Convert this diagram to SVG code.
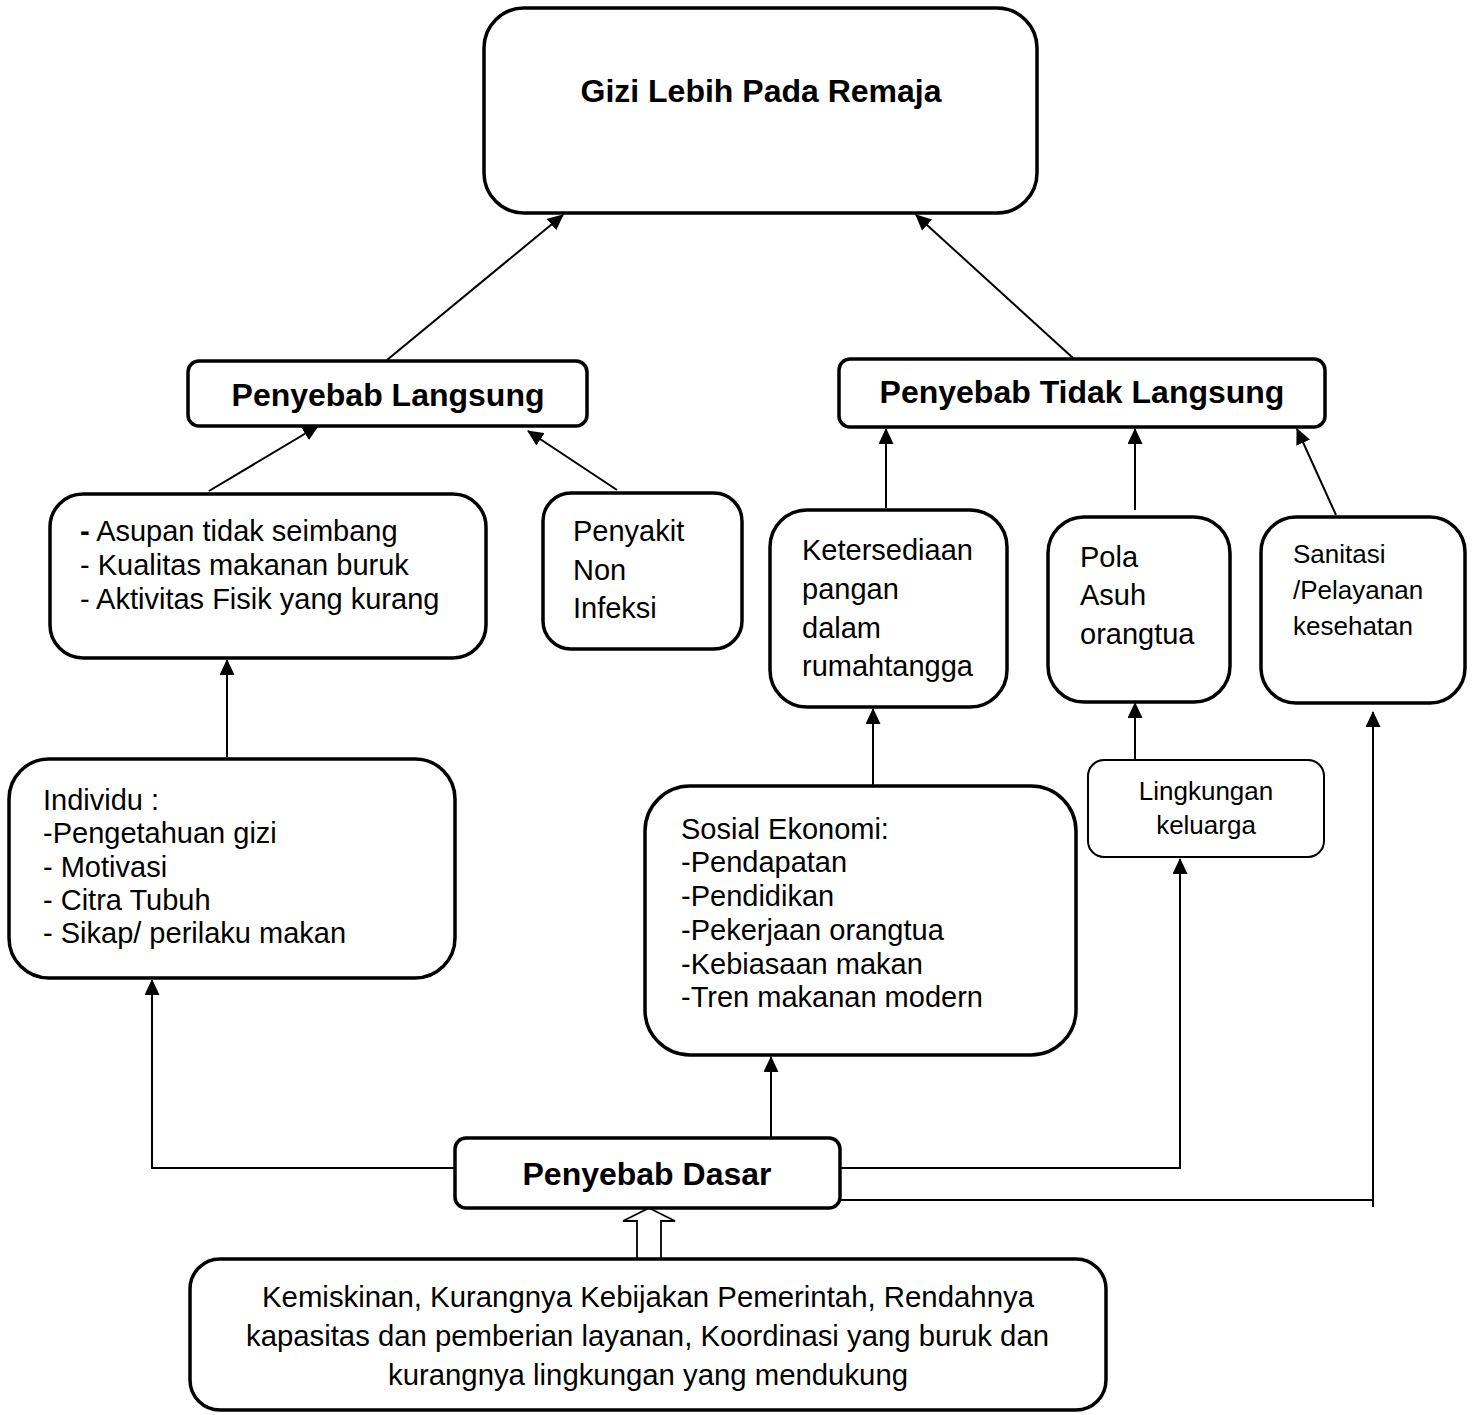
<svg xmlns="http://www.w3.org/2000/svg" width="1477" height="1415" viewBox="0 0 1477 1415">
<style>
.box{fill:#fff;stroke:#000;stroke-width:3.5}
.thin{fill:#fff;stroke:#000;stroke-width:2}
.t{font-family:"Liberation Sans",Arial,sans-serif;font-size:29px;fill:#000}
.s{font-family:"Liberation Sans",Arial,sans-serif;font-size:26px;fill:#000}
.h{font-family:"Liberation Sans",Arial,sans-serif;font-size:32px;font-weight:bold;fill:#000}
.n{font-family:"Liberation Sans",Arial,sans-serif;font-size:30px;fill:#000}
.c{fill:none;stroke:#000;stroke-width:2}
</style>
<defs>
<marker id="ah" markerUnits="userSpaceOnUse" markerWidth="17" markerHeight="15" refX="15" refY="7.5" orient="auto">
<path d="M0,0 L16,7.5 L0,15 Z" fill="#000"/>
</marker>
</defs>
<g id="connectors">
<line class="c" x1="387" y1="360" x2="563" y2="215" marker-end="url(#ah)"/>
<line class="c" x1="1073" y1="358" x2="916" y2="215" marker-end="url(#ah)"/>
<line class="c" x1="209" y1="491" x2="318" y2="426" marker-end="url(#ah)"/>
<line class="c" x1="617" y1="490" x2="528" y2="431" marker-end="url(#ah)"/>
<line class="c" x1="886" y1="508" x2="886" y2="429" marker-end="url(#ah)"/>
<line class="c" x1="1135" y1="510" x2="1135" y2="429" marker-end="url(#ah)"/>
<line class="c" x1="1336" y1="515" x2="1297" y2="429" marker-end="url(#ah)"/>
<line class="c" x1="227" y1="757" x2="227" y2="660" marker-end="url(#ah)"/>
<line class="c" x1="873" y1="786" x2="873" y2="709" marker-end="url(#ah)"/>
<line class="c" x1="1135" y1="759" x2="1135" y2="703" marker-end="url(#ah)"/>
<polyline class="c" points="455,1168 152,1168 152,980" marker-end="url(#ah)"/>
<line class="c" x1="771" y1="1138" x2="771" y2="1057" marker-end="url(#ah)"/>
<polyline class="c" points="840,1168 1180,1168 1180,859" marker-end="url(#ah)"/>
<polyline class="c" points="840,1200 1373,1200"/>
<line class="c" x1="1373" y1="1207" x2="1373" y2="712" marker-end="url(#ah)"/>
<path d="M637,1258 L637,1221 L623,1221 L649,1208 L675,1221 L661,1221 L661,1258" fill="#fff" stroke="#000" stroke-width="1.8"/>
</g>
<g id="gizi-lebih">
<rect class="box" x="484" y="8" width="553" height="205" rx="40"/>
<text class="h" x="761" y="102" text-anchor="middle">Gizi Lebih Pada Remaja</text>
</g>
<g id="penyebab-langsung">
<rect class="box" x="188" y="361" width="399" height="65" rx="11"/>
<text class="h" x="388" y="406" text-anchor="middle">Penyebab Langsung</text>
</g>
<g id="penyebab-tidak-langsung">
<rect class="box" x="839" y="359" width="486" height="68" rx="11"/>
<text class="h" x="1082" y="403" text-anchor="middle">Penyebab Tidak Langsung</text>
</g>
<g id="asupan">
<rect class="box" x="50" y="494" width="436" height="164" rx="33"/>
<text class="t" x="80" y="541"><tspan font-weight="bold">-</tspan> Asupan tidak seimbang</text>
<text class="t" x="80" y="575">- Kualitas makanan buruk</text>
<text class="t" x="80" y="609">- Aktivitas Fisik yang kurang</text>
</g>
<g id="penyakit">
<rect class="box" x="543" y="493" width="199" height="156" rx="28"/>
<text class="t" x="573" y="541">Penyakit</text>
<text class="t" x="573" y="580">Non</text>
<text class="t" x="573" y="618">Infeksi</text>
</g>
<g id="ketersediaan">
<rect class="box" x="770" y="510" width="237" height="197" rx="37"/>
<text class="t" x="802" y="560">Ketersediaan</text>
<text class="t" x="802" y="599">pangan</text>
<text class="t" x="802" y="638">dalam</text>
<text class="t" x="802" y="676">rumahtangga</text>
</g>
<g id="pola-asuh">
<rect class="box" x="1048" y="517" width="182" height="185" rx="36"/>
<text class="t" x="1080" y="567">Pola</text>
<text class="t" x="1080" y="605">Asuh</text>
<text class="t" x="1080" y="644">orangtua</text>
</g>
<g id="sanitasi">
<rect class="box" x="1261" y="517" width="204" height="186" rx="35"/>
<text class="s" x="1293" y="563">Sanitasi</text>
<text class="s" x="1293" y="599">/Pelayanan</text>
<text class="s" x="1293" y="635">kesehatan</text>
</g>
<g id="individu">
<rect class="box" x="9" y="759" width="446" height="219" rx="40"/>
<text class="t" x="43" y="810">Individu :</text>
<text class="t" x="43" y="843">-Pengetahuan gizi</text>
<text class="t" x="43" y="877">- Motivasi</text>
<text class="t" x="43" y="910">- Citra Tubuh</text>
<text class="t" x="43" y="943">- Sikap/ perilaku makan</text>
</g>
<g id="sosial-ekonomi">
<rect class="box" x="645" y="786" width="431" height="269" rx="45"/>
<text class="t" x="681" y="839">Sosial Ekonomi:</text>
<text class="t" x="681" y="872">-Pendapatan</text>
<text class="t" x="681" y="906">-Pendidikan</text>
<text class="t" x="681" y="940">-Pekerjaan orangtua</text>
<text class="t" x="681" y="974">-Kebiasaan makan</text>
<text class="t" x="681" y="1007">-Tren makanan modern</text>
</g>
<g id="lingkungan">
<rect class="thin" x="1088" y="760" width="236" height="97" rx="16"/>
<text class="s" x="1206" y="800" text-anchor="middle">Lingkungan</text>
<text class="s" x="1206" y="834" text-anchor="middle">keluarga</text>
</g>
<g id="penyebab-dasar">
<rect class="box" x="455" y="1138" width="385" height="70" rx="11"/>
<text class="h" x="647" y="1185" text-anchor="middle">Penyebab Dasar</text>
</g>
<g id="akar-masalah">
<rect class="box" x="190" y="1259" width="916" height="151" rx="30" stroke-width="4"/>
<text class="n" x="262" y="1307" textLength="772" lengthAdjust="spacingAndGlyphs">Kemiskinan, Kurangnya Kebijakan Pemerintah, Rendahnya</text>
<text class="n" x="246" y="1346" textLength="803" lengthAdjust="spacingAndGlyphs">kapasitas dan pemberian layanan, Koordinasi yang buruk dan</text>
<text class="n" x="388" y="1385" textLength="520" lengthAdjust="spacingAndGlyphs">kurangnya lingkungan yang mendukung</text>
</g>
</svg>
